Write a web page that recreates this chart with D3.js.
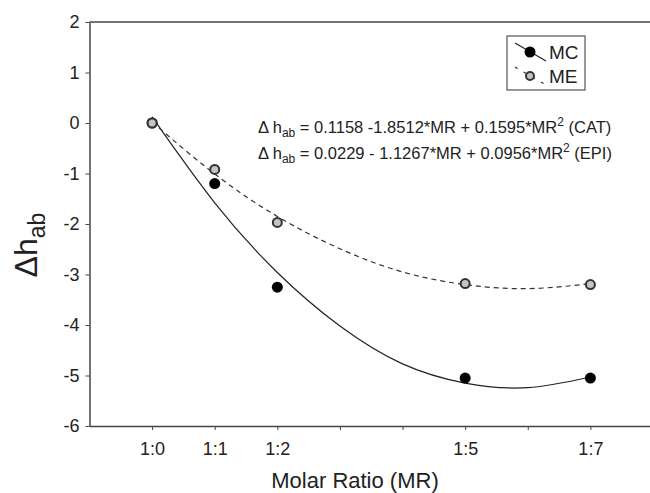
<!DOCTYPE html>
<html>
<head>
<meta charset="utf-8">
<script src="https://cdn.jsdelivr.net/npm/d3@7"></script>
<style>
  body { margin: 0; background: #fff; }
  svg text { font-family: "Liberation Sans", Arial, sans-serif; fill: #222; }
</style>
</head>
<body>
<div id="chart"></div>
<script>
// molar ratio positions and their labels
const ratios = [0, 1, 2, 5, 7];
const ratioLabels = ["1:0", "1:1", "1:2", "1:5", "1:7"];
const xTicks = [0, 1, 2, 3, 4, 5, 6, 7];
const yTicks = [2, 1, 0, -1, -2, -3, -4, -5, -6];

// measured points
const mcValues = [0, -1.2, -3.25, -5.05, -5.05];
const meValues = [0, -0.92, -1.97, -3.18, -3.2];

// fitted curves
const fitX = [0, 1, 2, 3, 4, 5, 6, 7];
const catFit = [0.12, -1.58, -2.96, -4.02, -4.77, -5.15, -5.24, -5.03];
const epiFit = [0.02, -1.01, -1.85, -2.49, -2.95, -3.20, -3.28, -3.18];

const width = 650, height = 493;

const svg = d3.select("#chart")
  .append("svg")
    .attr("width", width)
    .attr("height", height);

const x = d3.scaleLinear().domain([-1, 8]).range([89.5, 653]);
const y = d3.scaleLinear().domain([-6, 2]).range([426, 22]);

const axisColor = "#444";

// frame (top line + axes)
svg.append("line")
  .attr("x1", x(-1)).attr("x2", x(8))
  .attr("y1", y(2)).attr("y2", y(2))
  .attr("stroke", axisColor).attr("stroke-width", 1.5);

const yAxis = svg.append("g")
  .attr("transform", `translate(${x(-1)},0)`)
  .call(d3.axisLeft(y).tickValues(yTicks).tickSize(4).tickSizeOuter(0).tickPadding(6)
    .tickFormat(d => String(d)));

const xAxis = svg.append("g")
  .attr("transform", `translate(0,${y(-6)})`)
  .call(d3.axisBottom(x).tickValues(xTicks).tickSize(4).tickSizeOuter(0).tickPadding(12)
    .tickFormat(d => {
      const i = ratios.indexOf(d);
      return i >= 0 ? ratioLabels[i] : "";
    }));

[xAxis, yAxis].forEach(g => {
  g.select(".domain").attr("stroke", axisColor).attr("stroke-width", 1.5);
  g.selectAll(".tick line").attr("stroke", axisColor);
  g.selectAll(".tick text")
    .style("font-size", "18px")
    .style("font-family", "Liberation Sans, Arial, sans-serif")
    .attr("fill", "#222");
});

// fitted curves
const line = d3.line()
  .x((d, i) => x(fitX[i]))
  .y(d => y(d))
  .curve(d3.curveNatural);

svg.append("path")
  .datum(catFit)
  .attr("d", line)
  .attr("fill", "none")
  .attr("stroke", "#222")
  .attr("stroke-width", 1.2);

svg.append("path")
  .datum(epiFit)
  .attr("d", line)
  .attr("fill", "none")
  .attr("stroke", "#333")
  .attr("stroke-width", 1.2)
  .attr("stroke-dasharray", "5,4");

// points
svg.append("g")
  .selectAll("circle")
  .data(mcValues)
  .join("circle")
    .attr("cx", (d, i) => x(ratios[i]))
    .attr("cy", d => y(d))
    .attr("r", 5.5)
    .attr("fill", "#000");

svg.append("g")
  .selectAll("circle")
  .data(meValues)
  .join("circle")
    .attr("cx", (d, i) => x(ratios[i]))
    .attr("cy", d => y(d))
    .attr("r", 4.5)
    .attr("fill", "#c4c4c4")
    .attr("stroke", "#333")
    .attr("stroke-width", 2);

// legend
const legend = svg.append("g");
legend.append("rect")
  .attr("x", 507).attr("y", 36)
  .attr("width", 78).attr("height", 54)
  .attr("fill", "#fff")
  .attr("stroke", "#555")
  .attr("stroke-width", 1.2);

legend.append("line")
  .attr("x1", 515).attr("y1", 43).attr("x2", 546).attr("y2", 61)
  .attr("stroke", "#222").attr("stroke-width", 1.2);
legend.append("circle")
  .attr("cx", 530).attr("cy", 52).attr("r", 5.5).attr("fill", "#000");
legend.append("text")
  .attr("x", 549).attr("y", 59)
  .style("font-size", "19px")
  .text("MC");

legend.append("line")
  .attr("x1", 515).attr("y1", 67).attr("x2", 546).attr("y2", 85)
  .attr("stroke", "#333").attr("stroke-width", 1.2)
  .attr("stroke-dasharray", "3,7");
legend.append("circle")
  .attr("cx", 530).attr("cy", 76).attr("r", 4)
  .attr("fill", "#c4c4c4").attr("stroke", "#333").attr("stroke-width", 2);
legend.append("text")
  .attr("x", 549).attr("y", 83)
  .style("font-size", "19px")
  .text("ME");

// equations
const eqs = [
  { y: 133, a: " = 0.1158 -1.8512*MR + 0.1595*MR", b: " (CAT)" },
  { y: 159, a: " = 0.0229 - 1.1267*MR + 0.0956*MR", b: " (EPI)" }
];
eqs.forEach(e => {
  const t = svg.append("text")
    .attr("x", 258).attr("y", e.y)
    .style("font-size", "16.5px");
  t.append("tspan").text("\u0394 h");
  t.append("tspan").attr("dy", 4).style("font-size", "12px").text("ab");
  t.append("tspan").attr("dy", -4).text(e.a);
  t.append("tspan").attr("dy", -7).style("font-size", "12px").text("2");
  t.append("tspan").attr("dy", 7).text(e.b);
});

// axis titles
svg.append("text")
  .attr("x", 355).attr("y", 488)
  .attr("text-anchor", "middle")
  .style("font-size", "22px")
  .text("Molar Ratio (MR)");

const yt = svg.append("text")
  .attr("transform", "translate(37,245) rotate(-90)")
  .attr("text-anchor", "middle")
  .style("font-size", "32px");
yt.append("tspan").text("\u0394h");
yt.append("tspan").attr("dy", 8).style("font-size", "23px").text("ab");
</script>
</body>
</html>
